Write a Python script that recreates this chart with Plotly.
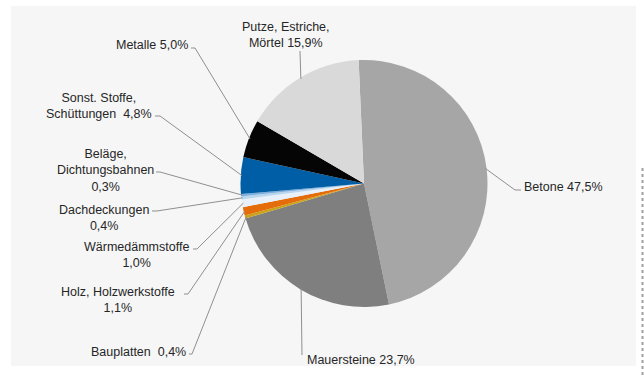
import math
import plotly.graph_objects as go

# Material shares (percent), clockwise from 12 o'clock
categories = [
    "Betone",
    "Mauersteine",
    "Bauplatten",
    "Holz, Holzwerkstoffe",
    "Wärmedämmstoffe",
    "Dachdeckungen",
    "Beläge, Dichtungsbahnen",
    "Sonst. Stoffe, Schüttungen",
    "Metalle",
    "Putze, Estriche, Mörtel",
]
shares = [47.5, 23.7, 0.4, 1.1, 1.0, 0.4, 0.3, 4.8, 5.0, 15.9]

# How each category name is broken into lines in its label
label_names = [
    "Betone ",
    "Mauersteine ",
    "Bauplatten&nbsp; ",
    "Holz, Holzwerkstoffe<br>",
    "Wärmedämmstoffe<br>",
    "Dachdeckungen<br>",
    "Beläge,<br>Dichtungsbahnen<br>",
    "Sonst. Stoffe,<br>Schüttungen&nbsp; ",
    "Metalle ",
    "Putze, Estriche,<br>Mörtel ",
]

colors = [
    "#a6a6a6", "#7f7f7f", "#c9a418", "#e46c0a", "#e8f1fa",
    "#b9d6ef", "#7eb0de", "#005ea6", "#050505", "#d9d9d9",
]

W, H = 644, 376
CX, CY, R = 364.0, 183.5, 123.5   # pie centre / radius in pixels
START_DEG = -2.5                  # first slice starts slightly left of 12 o'clock


def px(x):
    return x / W


def py(y):
    return 1 - y / H


def pct(v):
    return f"{v:.1f}".replace(".", ",") + "%"


# label placement in pixels: (x, y, xanchor, leader waypoints from text to slice)
label_layout = [
    (522, 187, "left",   [(521, 190), (515, 190)]),
    (305, 360, "left",   [(302, 355)]),
    (188, 352, "right",  [(189, 354), (192, 354)]),
    (118, 300, "center", [(184, 294), (188, 294)]),
    (136, 255, "center", [(193, 249), (197, 249)]),
    (104, 218, "center", [(152, 211), (157, 211)]),
    (105, 170, "center", [(156, 172), (160, 172)]),
    (99, 106, "center",  [(155, 116), (160, 116)]),
    (190, 45, "right",   [(191, 48), (195, 48)]),
    (286, 35, "center",  [(300, 51)]),
]

fig = go.Figure()
fig.add_trace(go.Pie(
    labels=categories,
    values=shares,
    sort=False,
    direction="clockwise",
    rotation=START_DEG,
    textinfo="none",
    hoverinfo="label+percent",
    marker=dict(colors=colors, line=dict(width=0)),
    domain=dict(x=[px(CX - R), px(CX + R)], y=[py(CY + R), py(CY - R)]),
    showlegend=False,
))

shapes = [
    # light grey panel behind the chart
    dict(type="rect", xref="paper", yref="paper", layer="below",
         x0=px(11), x1=px(636), y0=py(366), y1=py(6),
         fillcolor="#f6f6f6", line=dict(width=0)),
    dict(type="line", xref="paper", yref="paper",
         x0=px(642.5), x1=px(642.5), y0=py(168), y1=py(376),
         line=dict(color="#a0a0a0", width=2, dash="dot")),
]

annotations = []
total = sum(shares)
cum = 0.0
for name, v, (lx, ly, anchor, pts) in zip(label_names, shares, label_layout):
    mid = (cum + v / 2) / total * 2 * math.pi + math.radians(START_DEG)
    cum += v
    ex = CX + R * 0.99 * math.sin(mid)
    ey = CY - R * 0.99 * math.cos(mid)
    path_pts = pts + [(ex, ey)]
    path = "M " + " L ".join(f"{px(x):.5f},{py(y):.5f}" for x, y in path_pts)
    shapes.append(dict(type="path", xref="paper", yref="paper", path=path,
                       line=dict(color="#8f8f8f", width=1)))
    annotations.append(dict(
        x=px(lx), y=py(ly), xref="paper", yref="paper",
        text=name + pct(v),
        showarrow=False, xanchor=anchor, yanchor="middle", align="center",
        font=dict(family="Liberation Sans, Arial, sans-serif", size=12.5, color="#262626"),
    ))

fig.update_layout(
    width=W, height=H,
    margin=dict(l=0, r=0, t=0, b=0),
    paper_bgcolor="#ffffff",
    plot_bgcolor="#ffffff",
    shapes=shapes,
    annotations=annotations,
)

fig.write_html("out.html")
